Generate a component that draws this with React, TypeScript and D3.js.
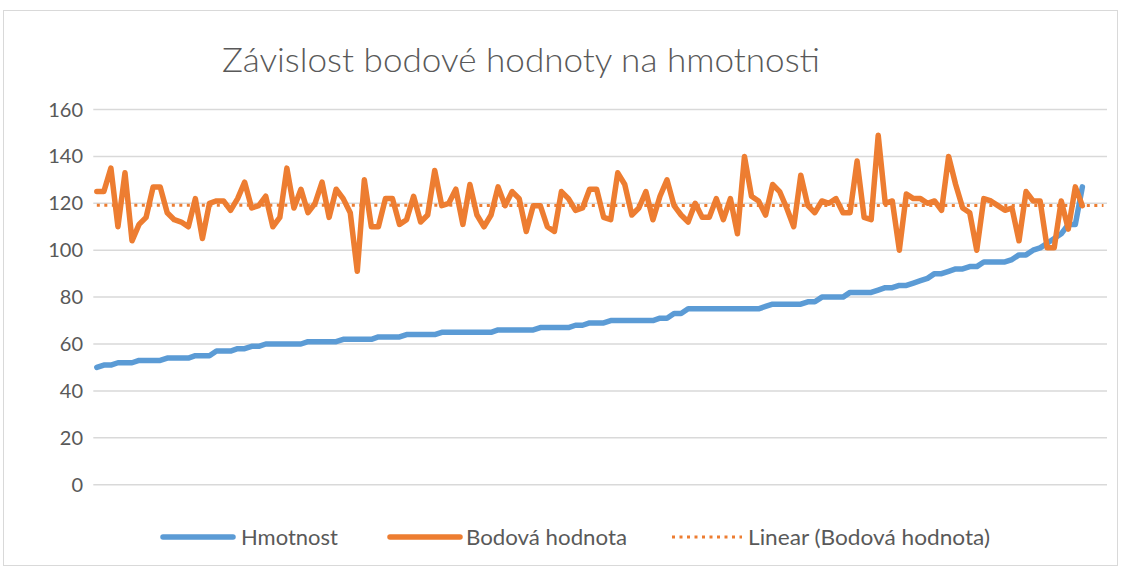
import React from "react";
import * as d3 from "d3";

// Chart data
const title = "Závislost bodové hodnoty na hmotnosti";

const hmotnost: number[] = [
	50, 51, 51, 52, 52, 52, 53, 53, 53, 53,
	54, 54, 54, 54, 55, 55, 55, 57, 57, 57,
	58, 58, 59, 59, 60, 60, 60, 60, 60, 60,
	61, 61, 61, 61, 61, 62, 62, 62, 62, 62,
	63, 63, 63, 63, 64, 64, 64, 64, 64, 65,
	65, 65, 65, 65, 65, 65, 65, 66, 66, 66,
	66, 66, 66, 67, 67, 67, 67, 67, 68, 68,
	69, 69, 69, 70, 70, 70, 70, 70, 70, 70,
	71, 71, 73, 73, 75, 75, 75, 75, 75, 75,
	75, 75, 75, 75, 75, 76, 77, 77, 77, 77,
	77, 78, 78, 80, 80, 80, 80, 82, 82, 82,
	82, 83, 84, 84, 85, 85, 86, 87, 88, 90,
	90, 91, 92, 92, 93, 93, 95, 95, 95, 95,
	96, 98, 98, 100, 101, 103, 105, 107, 111, 111,
	127,
];

const bodovaHodnota: number[] = [
	125, 125, 135, 110, 133, 104, 111, 114, 127, 127,
	116, 113, 112, 110, 122, 105, 120, 121, 121, 117,
	122, 129, 118, 119, 123, 110, 114, 135, 118, 126,
	116, 120, 129, 114, 126, 122, 116, 91, 130, 110,
	110, 122, 122, 111, 113, 123, 112, 115, 134, 119,
	120, 126, 111, 128, 115, 110, 115, 127, 119, 125,
	122, 108, 119, 119, 110, 108, 125, 122, 117, 118,
	126, 126, 114, 113, 133, 128, 115, 118, 125, 113,
	123, 130, 119, 115, 112, 120, 114, 114, 122, 113,
	122, 107, 140, 123, 121, 115, 128, 125, 118, 110,
	132, 119, 116, 121, 120, 122, 116, 116, 138, 114,
	113, 149, 120, 121, 100, 124, 122, 122, 120, 121,
	117, 140, 128, 118, 116, 100, 122, 121, 119, 117,
	118, 104, 125, 121, 121, 101, 101, 121, 109, 127,
	119,
];

const categories: number[] = hmotnost.map((_, i) => i + 1);
const yTicks: number[] = [0, 20, 40, 60, 80, 100, 120, 140, 160];
const forecastForward = 3;

const legendItems = [
	{ label: "Hmotnost", color: "#5b9bd5", dotted: false },
	{ label: "Bodová hodnota", color: "#ed7d31", dotted: false },
	{ label: "Linear (Bodová hodnota)", color: "#ed7d31", dotted: true },
];

const W = 1123;
const H = 569;
const plot = { left: 93.3, right: 1107, top: 109.5, bottom: 484.7 };

const App: React.FC = () => {
	const n = categories.length;

	const x = d3
		.scaleLinear()
		.domain([-0.5, n + forecastForward - 0.5])
		.range([plot.left, plot.right]);

	const y = d3.scaleLinear().domain([0, 160]).range([plot.bottom, plot.top]);

	const line = d3
		.line<number>()
		.x((_, i) => x(i))
		.y((d) => y(d))
		.curve(d3.curveLinear);

	// least squares trend of the orange series, extended forward like Excel does
	const xm = d3.mean(categories, (_, i) => i) as number;
	const ym = d3.mean(bodovaHodnota) as number;
	let sxy = 0;
	let sxx = 0;
	bodovaHodnota.forEach((v, i) => {
		sxy += (i - xm) * (v - ym);
		sxx += (i - xm) * (i - xm);
	});
	const slope = sxy / sxx;
	const icpt = ym - slope * xm;
	const trendEnd = n - 1 + forecastForward;

	// legend geometry
	const legendY = 537;
	const legendX = [163, 390, 672];
	const legendTextX = [241, 466, 748];
	const legendTextW = [97, 161, 242];

	return (
		<div style={{ position: "fixed", left: 0, top: 0 }}>
			<svg width={W} height={H} style={{ display: "block", background: "#fff" }}>
				<rect
					x={3.5}
					y={10.5}
					width={1114}
					height={555}
					fill="#fff"
					stroke="#d9d9d9"
					strokeWidth={1}
				/>

				<text
					x={222}
					y={72}
					fontFamily="Lato, 'Open Sans', sans-serif"
					fontWeight={300}
					fontSize={34}
					fill="#595959"
					textLength={598}
					lengthAdjust="spacingAndGlyphs"
				>
					{title}
				</text>

				{/* gridlines & y labels */}
				{yTicks.map((t) => (
					<g key={t}>
						<line
							x1={plot.left}
							x2={plot.right}
							y1={y(t)}
							y2={y(t)}
							stroke="#d9d9d9"
							strokeWidth={1.5}
						/>
						<text
							x={83}
							y={y(t)}
							dy="0.35em"
							textAnchor="end"
							fontFamily="Lato, 'Open Sans', sans-serif"
							fontSize={20}
							fill="#595959"
						>
							{t}
						</text>
					</g>
				))}

				<path
					d={line(hmotnost) || ""}
					fill="none"
					stroke="#5b9bd5"
					strokeWidth={5.5}
					strokeLinejoin="round"
					strokeLinecap="round"
				/>
				<path
					d={line(bodovaHodnota) || ""}
					fill="none"
					stroke="#ed7d31"
					strokeWidth={5.5}
					strokeLinejoin="round"
					strokeLinecap="round"
				/>
				<line
					x1={x(0)}
					y1={y(icpt)}
					x2={x(trendEnd)}
					y2={y(icpt + slope * trendEnd)}
					stroke="#ed7d31"
					strokeWidth={3}
					strokeDasharray="3 4.5"
				/>

				{/* legend */}
				{legendItems.map((it, i) => (
					<g key={it.label}>
						<line
							x1={legendX[i]}
							x2={legendX[i] + 70}
							y1={legendY}
							y2={legendY}
							stroke={it.color}
							strokeWidth={it.dotted ? 3 : 5.5}
							strokeLinecap={it.dotted ? "butt" : "round"}
							strokeDasharray={it.dotted ? "3 4.5" : undefined}
						/>
						<text
							x={legendTextX[i]}
							y={legendY}
							dy="0.35em"
							fontFamily="Lato, 'Open Sans', sans-serif"
							fontSize={22}
							fill="#595959"
							textLength={legendTextW[i]}
							lengthAdjust="spacingAndGlyphs"
						>
							{it.label}
						</text>
					</g>
				))}
			</svg>
		</div>
	);
};

export default App;
